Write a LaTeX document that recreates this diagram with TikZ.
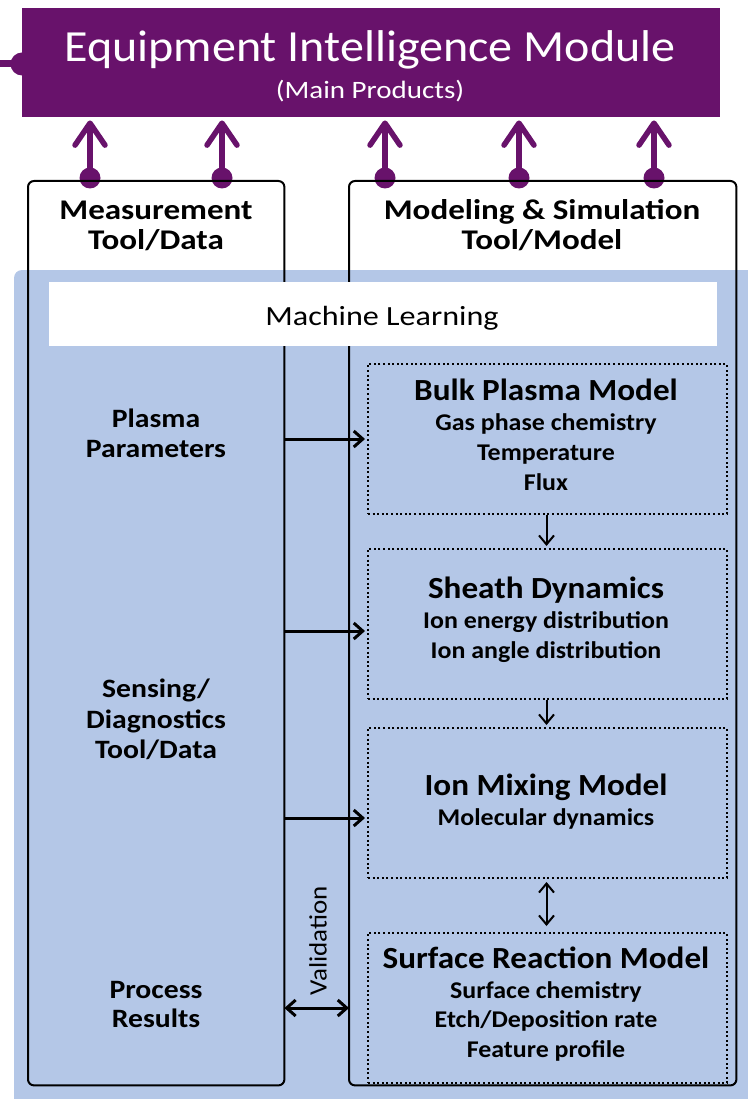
\documentclass[tikz,border=0pt]{standalone}
\usepackage{fontspec}
\setmainfont{Carlito}
\newfontfamily\wideS{Carlito}[FakeStretch=1.08]
\newfontfamily\wideM{Carlito}[FakeStretch=1.12]
\newfontfamily\wideL{Carlito}[FakeStretch=1.16]
\usetikzlibrary{arrows.meta,calc}
\definecolor{eimpurple}{RGB}{104,18,107}
\definecolor{mlblue}{RGB}{180,199,231}

\begin{document}
\begin{tikzpicture}[x=1pt,y=-1pt,
  txt/.style={inner sep=0pt, anchor=base},
  hdr/.style={txt, font=\wideL\fontsize{28.5}{30}\selectfont\bfseries},
  lbl/.style={txt, font=\wideM\fontsize{26.5}{30}\selectfont\bfseries},
  mtitle/.style={txt, font=\wideS\fontsize{30.7}{32}\selectfont\bfseries},
  msub/.style={txt, font=\wideS\fontsize{24}{30}\selectfont\bfseries},
  toolbox/.style={rectangle, rounded corners=6pt, inner sep=0pt, anchor=north west},
  modelbox/.style={rectangle, draw, line width=2pt, dash pattern=on 2pt off 2.6pt,
    inner sep=0pt, anchor=north west},
  pdot/.style={circle, fill=eimpurple, minimum size=21pt, inner sep=0pt},
  parr/.style={draw=eimpurple, line width=5.5pt,
    -{Straight Barb[length=22pt, width=30pt, round]}},
  barr/.style={line width=3pt, -{Straight Barb[length=9pt, width=16pt]}},
  sarr/.style={line width=2pt, -{Straight Barb[length=9pt, width=15pt]}},
  darr/.style={line width=2pt, {Straight Barb[length=9pt, width=15pt]}-{Straight Barb[length=9pt, width=15pt]}},
  varr/.style={line width=3pt, {Straight Barb[length=9pt, width=16pt]}-{Straight Barb[length=9pt, width=16pt]}}
]
\useasboundingbox (0,0) rectangle (747,1099);

% connector entering the module from the left
\node[circle, fill=eimpurple, minimum size=23pt, inner sep=0pt] (ldot) at (22,64) {};
\draw[eimpurple, line width=7pt] (0,64) coordinate (lin) -- (ldot.center);

% main module
\node[fill=eimpurple, minimum width=698pt, minimum height=109pt, inner sep=0pt,
      anchor=north west] (eim) at (22,8) {};
\node[txt, text=white, font=\wideS\fontsize{44.5}{50}\selectfont] (eimT) at (370,62)
  {Equipment Intelligence Module};
\node[txt, text=white, font=\wideL\fontsize{25}{28}\selectfont] (eimS) at (370,99)
  {(Main Products)};

% white tool boxes
\node[toolbox, fill=white, minimum width=256pt, minimum height=904pt] (meas) at (28,181) {};
\node[toolbox, fill=white, minimum width=387pt, minimum height=904pt] (model) at (349,181) {};

% outputs feeding the module
\foreach \i/\x in {1/90,2/222,3/385,4/519,5/654}{
  \node[pdot] (d\i) at (\x,178) {};
  \draw[parr] (d\i.center) -- ([yshift=-3pt]d\i.center |- eim.south);
}

% machine learning layer
\fill[mlblue, rounded corners=8pt] (14,270) rectangle (760,1110);

% tool box outlines
\draw[line width=2pt, rounded corners=6pt] (meas.north west) rectangle (meas.south east);
\draw[line width=2pt, rounded corners=6pt] (model.north west) rectangle (model.south east);

\node[hdr] (measA) at (156,220) {Measurement};
\node[hdr] (measB) at (156,250) {Tool/Data};
\node[hdr] (modA) at (542,220) {Modeling \& Simulation};
\node[hdr] (modB) at (542,250) {Tool/Model};

\node[fill=white, minimum width=668pt, minimum height=64pt, inner sep=0pt,
      anchor=north west] (ml) at (49,282) {};
\node[txt, font=\wideL\fontsize{27.7}{30}\selectfont] (mlT) at (382,325) {Machine Learning};

% measurement side labels
\node[lbl] (pp1) at (156,427) {Plasma};
\node[lbl] (pp2) at (156,457) {Parameters};
\node[lbl] (sd1) at (156,697) {Sensing/};
\node[lbl] (sd2) at (156,728) {Diagnostics};
\node[lbl] (sd3) at (156,758) {Tool/Data};
\node[lbl] (pr1) at (156,998) {Process};
\node[lbl] (pr2) at (156,1027) {Results};

% model chain
\node[modelbox, minimum width=359pt, minimum height=150pt] (bulk) at (367,363) {};
\node[modelbox, minimum width=359pt, minimum height=150pt] (sheath) at (367,548) {};
\node[modelbox, minimum width=359pt, minimum height=150pt] (ion) at (367,727) {};
\node[modelbox, minimum width=359pt, minimum height=150pt] (surf) at (367,932) {};

\node[mtitle] (bulkT) at (546,400) {Bulk Plasma Model};
\node[msub] (bulk1) at (546,430) {Gas phase chemistry};
\node[msub] (bulk2) at (546,460) {Temperature};
\node[msub] (bulk3) at (546,490) {Flux};

\node[mtitle] (sheathT) at (546,598) {Sheath Dynamics};
\node[msub] (sheath1) at (546,628) {Ion energy distribution};
\node[msub] (sheath2) at (546,658) {Ion angle distribution};

\node[mtitle] (ionT) at (546,795) {Ion Mixing Model};
\node[msub] (ion1) at (546,825) {Molecular dynamics};

\node[mtitle] (surfT) at (546,968) {Surface Reaction Model};
\node[msub] (surf1) at (546,998) {Surface chemistry};
\node[msub] (surf2) at (546,1027) {Etch/Deposition rate};
\node[msub] (surf3) at (546,1057) {Feature profile};

% links between the two sides
\coordinate (inB) at ([xshift=-2pt]bulk.west);
\coordinate (inS) at ([xshift=-2pt,yshift=-7pt]sheath.west);
\coordinate (inI) at ([xshift=-2pt,yshift=-15pt]ion.west);
\draw[barr] (meas.east |- inB) -- (inB);
\draw[barr] (meas.east |- inS) -- (inS);
\draw[barr] (meas.east |- inI) -- (inI);

\draw[sarr] ([xshift=-1pt]bulk.south) -- ([xshift=-1pt,yshift=2pt]sheath.north);
\draw[sarr] ([xshift=-1pt]sheath.south) -- ([xshift=-1pt,yshift=2pt]ion.north);
\draw[darr] ([xshift=-1pt,yshift=-3pt]ion.south) -- ([xshift=-1pt,yshift=6pt]surf.north);

\coordinate (vy) at (0,1008);
\draw[varr] (meas.east |- vy) -- (model.west |- vy);
\node[inner sep=0pt, rotate=90, font=\wideS\fontsize{25}{28}\selectfont] (val) at (318,941) {Validation};

\end{tikzpicture}
\end{document}
